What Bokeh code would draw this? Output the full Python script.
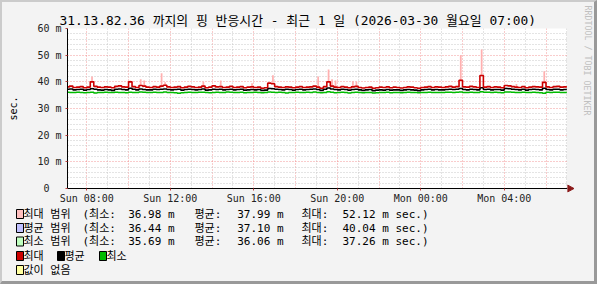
from bokeh.plotting import figure
from bokeh.layouts import column, row
from bokeh.models import FixedTicker, Range1d, ColumnDataSource
from bokeh.core.properties import value
from bokeh.embed import file_html
from bokeh.resources import INLINE

# ---------------- data (ms), 10-minute steps from Sun 07:00 ----------------
max_ms = [38.1, 38.4, 37.9, 38.0, 38.2, 37.8, 38.0, 40.0, 38.3, 38.0, 37.9, 38.1,
          38.0, 37.8, 38.3, 38.5, 38.1, 38.0, 40.0, 38.2, 37.9, 38.6, 38.4, 38.0,
          37.9, 38.2, 38.0, 38.4, 38.7, 38.1, 37.9, 38.0, 38.2, 37.8, 38.0, 38.3,
          38.1, 37.9, 38.0, 38.4, 37.8, 38.0, 38.5, 38.1, 38.2, 37.9, 38.0, 38.3,
          37.9, 38.0, 38.2, 37.8, 38.0, 38.1, 37.9, 38.0, 37.6, 37.8, 39.5, 39.3,
          38.2, 38.0, 37.9, 38.1, 38.0, 37.8, 38.0, 38.2, 37.9, 38.0, 38.1, 38.4,
          38.0, 37.6, 38.2, 40.0, 38.4, 38.0, 37.9, 38.2, 38.0, 37.8, 38.1, 38.3,
          37.9, 37.7, 37.9, 38.0, 37.6, 37.8, 38.0, 37.9, 38.1, 37.8, 38.0, 37.9,
          37.7, 37.9, 38.1, 38.0, 37.8, 37.6, 37.9, 38.0, 38.2, 37.9, 38.1, 38.0,
          37.9, 38.1, 38.3, 38.0, 38.2, 40.6, 38.1, 38.0, 38.3, 38.1, 37.9, 42.4,
          38.0, 38.2, 37.9, 38.1, 38.0, 37.8, 38.6, 38.5, 38.2, 38.0, 37.9, 38.2,
          37.8, 38.0, 38.2, 38.1, 38.0, 39.8, 38.1, 37.9, 38.2, 38.3, 38.0, 38.1]

avg_ms = [37.2, 37.3, 37.0, 37.1, 37.2, 36.9, 37.1, 37.4, 37.2, 37.0, 36.9, 37.1,
          37.0, 36.8, 37.2, 37.3, 37.1, 37.0, 37.6, 37.2, 37.0, 37.3, 37.1, 37.0,
          37.0, 37.2, 37.1, 37.2, 37.3, 37.1, 37.0, 37.1, 37.2, 36.9, 37.1, 37.2,
          37.1, 37.0, 37.1, 37.3, 36.9, 37.0, 37.2, 37.1, 37.2, 37.0, 37.1, 37.2,
          37.0, 37.1, 37.2, 36.9, 37.0, 37.1, 37.0, 37.1, 36.8, 36.9, 37.5, 37.4,
          37.2, 37.1, 37.0, 37.2, 37.1, 36.9, 37.1, 37.2, 37.0, 37.1, 37.2, 37.3,
          37.1, 36.8, 37.2, 37.7, 37.3, 37.1, 37.0, 37.2, 37.1, 36.9, 37.1, 37.2,
          37.0, 36.8, 37.0, 37.1, 36.7, 36.9, 37.0, 36.9, 37.1, 36.9, 37.0, 37.0,
          36.8, 37.0, 37.1, 37.0, 36.9, 36.7, 37.0, 37.1, 37.2, 37.0, 37.1, 37.0,
          37.0, 37.1, 37.2, 37.1, 37.2, 37.5, 37.1, 37.0, 37.2, 37.1, 37.0, 37.8,
          37.1, 37.2, 37.0, 37.1, 37.1, 36.9, 37.5, 37.4, 37.2, 37.1, 37.0, 37.2,
          36.9, 37.1, 37.2, 37.1, 37.0, 37.6, 37.1, 37.0, 37.2, 37.2, 37.0, 37.1]

min_ms = [36.1, 36.0, 36.0, 36.1, 36.0, 35.9, 36.0, 36.1, 35.8, 36.0, 36.0, 36.1,
          36.0, 36.0, 36.1, 36.0, 36.0, 35.9, 36.1, 36.0, 36.0, 36.2, 36.1, 36.0,
          36.0, 36.1, 36.0, 36.0, 36.2, 36.0, 36.0, 35.9, 35.7, 35.9, 36.0, 36.1,
          36.0, 36.0, 36.1, 36.1, 36.0, 35.9, 36.0, 36.1, 36.0, 36.0, 36.2, 36.1,
          36.0, 36.0, 36.1, 35.9, 36.0, 36.0, 36.1, 36.0, 35.9, 36.0, 36.2, 36.1,
          36.0, 36.1, 36.0, 35.8, 36.0, 36.0, 36.1, 36.0, 36.0, 36.1, 36.0, 36.2,
          36.0, 35.9, 36.0, 36.3, 36.1, 35.9, 36.0, 36.1, 36.0, 35.8, 36.0, 36.1,
          36.0, 35.9, 36.0, 36.0, 35.8, 35.9, 36.0, 36.0, 36.1, 35.9, 36.0, 36.0,
          35.9, 36.0, 36.1, 36.0, 36.0, 35.9, 36.0, 36.0, 36.1, 36.0, 36.0, 36.0,
          36.0, 36.1, 36.1, 36.0, 36.1, 36.2, 36.0, 36.0, 36.1, 36.0, 36.0, 36.3,
          36.1, 36.1, 36.0, 36.1, 36.0, 35.9, 36.2, 36.2, 36.1, 36.0, 36.0, 36.1,
          36.0, 36.0, 36.1, 36.0, 35.9, 35.7, 36.1, 36.0, 36.1, 36.1, 36.0, 36.0]

# max-range peaks (index of 10-minute step, top value)
spike_idx = [7, 18, 21, 22, 27, 28, 39, 44, 53, 59, 72, 75, 76, 77, 82, 83, 113, 119, 129, 137]
spike_top = [42.0, 40.5, 41.0, 40.5, 43.2, 39.8, 40.0, 40.5, 39.5, 42.5, 42.0, 44.6, 41.0,
             40.5, 40.2, 40.0, 50.0, 52.12, 39.2, 44.0]

x_tick_hours = [1, 5, 9, 13, 17, 21]
x_tick_labels = ["Sun 08:00", "Sun 12:00", "Sun 16:00", "Sun 20:00", "Mon 00:00", "Mon 04:00"]
y_ticks = [0, 10, 20, 30, 40, 50, 60]
y_tick_labels = ["0\u00a0\u00a0", "10 m", "20 m", "30 m", "40 m", "50 m", "60 m"]

title_text = "31.13.82.36 까지의 핑 반응시간 - 최근 1 일 (2026-03-30 월요일 07:00)"
side_text = "RRDTOOL / TOBI OETIKER"
range_labels = ["최대 범위", "평균 범위", "최소 범위"]
range_colors = ["#FFC0C0", "#C0C0FF", "#C0FFC0"]
range_min = [36.98, 36.44, 35.69]
range_avg = [37.99, 37.10, 36.06]
range_max = [52.12, 40.04, 37.26]
line_labels = ["최대", "평균", "최소"]
line_colors = ["#CC0000", "#000000", "#00BB00"]
nodata_label = "값이 없음"
nodata_color = "#FFFFA0"

# ---------------- layout ----------------
BG = "#F3F3F3"
MONO = "DejaVu Sans Mono, Noto Sans CJK KR"
MW, MH = 565, 205          # main figure, canvas x 2..567, y 2..207
FL, FT, FB = 65, 26, 186


def no_align(fig):
    if "frame_align" in fig.properties():
        fig.frame_align = False


p = figure(width=MW, height=MH, output_backend="svg", toolbar_location=None,
           x_range=Range1d(0.075, 24.03), y_range=Range1d(0, 60),
           min_border_left=FL, min_border_right=0, min_border_top=FT,
           min_border_bottom=MH - FB)
no_align(p)
p.background_fill_color = "#FFFFFF"
p.border_fill_color = BG
p.outline_line_color = None

p.title.text = title_text
p.title.align = "left"
p.title.offset = -8
p.title.standoff = 2
p.title.text_font = MONO
p.title.text_font_size = "12.9px"
p.title.text_font_style = "normal"
p.title.text_color = "#000000"

# grid
p.xgrid.ticker = FixedTicker(ticks=[1, 3, 5, 7, 9, 11, 13, 15, 17, 19, 21, 23],
                             minor_ticks=[2, 4, 6, 8, 10, 12, 14, 16, 18, 20, 22, 24])
p.ygrid.ticker = FixedTicker(ticks=[10, 20, 30, 40, 50, 60],
                             minor_ticks=[2, 4, 6, 8, 12, 14, 16, 18, 22, 24, 26, 28, 32, 34, 36,
                                          38, 42, 44, 46, 48, 52, 54, 56, 58])
for g in (p.xgrid[0], p.ygrid[0]):
    g.grid_line_color = "#F08080"
    g.grid_line_alpha = 0.8
    g.grid_line_dash = "1 2"
    g.minor_grid_line_color = "#C8C8C8"
    g.minor_grid_line_dash = "1 2"

# axes
xa = p.xaxis[0]
xa.ticker = FixedTicker(ticks=x_tick_hours)
xa.major_label_overrides = dict(zip(x_tick_hours, x_tick_labels))
ya = p.yaxis[0]
ya.ticker = FixedTicker(ticks=y_ticks)
ya.major_label_overrides = dict(zip(y_ticks, y_tick_labels))
for a in (xa, ya):
    a.axis_line_color = "#000000"
    a.axis_line_width = 1
    a.major_tick_in = 0
    a.major_tick_out = 2
    a.major_tick_line_color = "#C04040"
    a.minor_tick_line_color = None
    a.major_label_text_font = MONO
    a.major_label_text_font_size = "10px"
    a.major_label_text_color = "#222222"
xa.major_label_standoff = 2
ya.major_label_standoff = 4
ya.axis_label = "sec."
ya.axis_label_text_font = MONO
ya.axis_label_text_font_size = "10px"
ya.axis_label_text_font_style = "normal"
ya.axis_label_text_color = "#000000"
ya.axis_label_standoff = 15

# data
t = [i / 6 for i in range(len(max_ms) + 1)]
p.quad(left=[t[i] + 1 / 24 for i in spike_idx], right=[t[i] + 1 / 8 for i in spike_idx],
       bottom=[max_ms[i] for i in spike_idx], top=spike_top,
       fill_color="#FFB0B0", line_color=None)
p.step(t, min_ms + [min_ms[-1]], mode="after", line_color=line_colors[2], line_width=1.6)
p.step(t, avg_ms + [avg_ms[-1]], mode="after", line_color=line_colors[1], line_width=1.6)
p.step(t, max_ms + [max_ms[-1]], mode="after", line_color=line_colors[0], line_width=1.6)


def panel(w, h):
    f = figure(width=w, height=h, output_backend="svg", toolbar_location=None,
               x_range=Range1d(0, w), y_range=Range1d(h, 0),
               x_axis_type=None, y_axis_type=None,
               min_border_left=0, min_border_right=0, min_border_top=0, min_border_bottom=0)
    no_align(f)
    f.background_fill_color = BG
    f.border_fill_color = BG
    f.outline_line_color = None
    f.xgrid.visible = False
    f.ygrid.visible = False
    return f


# ---------------- legend panel (canvas x 2..567, y 207..281) ----------------
LW, LH = 565, 74
q = panel(LW, LH)
OX, OY = 2, 207
rows_y = [213.5, 227.5, 241, 255.5, 269.5]
ry = [y - OY for y in rows_y]

bx, by, bc = [], [], []
tx, ty, tt, ta = [], [], [], []


def txt(x, y, s, align="left"):
    tx.append(x - OX)
    ty.append(y)
    tt.append(s)
    ta.append(align)


for k in range(3):
    y = ry[k]
    bx.append(16 - OX); by.append(y); bc.append(range_colors[k])
    txt(23, y, range_labels[k])
    txt(82, y, "(최소:")
    txt(174, y, f"{range_min[k]:.2f} m", "right")
    txt(194, y, "평균:")
    txt(283, y, f"{range_avg[k]:.2f} m", "right")
    txt(301, y, "최대:")
    txt(342, y, f"{range_max[k]:.2f} m sec.)")

line_box_x = [16, 57, 99]
for k in range(3):
    bx.append(line_box_x[k] - OX); by.append(ry[3]); bc.append(line_colors[k])
    txt(line_box_x[k] + 7, ry[3], line_labels[k])
bx.append(16 - OX); by.append(ry[4]); bc.append(nodata_color)
txt(23, ry[4], nodata_label)

q.quad(left=bx, right=[x + 7 for x in bx], top=[y - 4.5 for y in by],
       bottom=[y + 4.5 for y in by], fill_color=bc, line_color="#000000", line_width=1)
q.text(x="x", y="y", text="t", text_align="a",
       source=ColumnDataSource(dict(x=tx, y=ty, t=tt, a=ta)),
       text_font=value(MONO), text_font_size=value("11px"), text_color="#000000",
       text_baseline="middle")

# ---------------- right strip (canvas x 567..594, y 2..281) ----------------
r = panel(27, 279)
r.text(x=[587 - 567], y=[60 - 2], text=[side_text], angle=-1.5708,
       text_font=value(MONO), text_font_size=value("8.3px"), text_color="#C0C0C0",
       text_align="center", text_baseline="middle")
# x-axis arrow head (axis end at canvas y 188)
r.segment(x0=[0], y0=[186], x1=[3], y1=[186], line_color="#000000", line_width=1)
r.patch(x=[0, 6.5, 0], y=[182.5, 186, 189.5], fill_color="#8B1A1A", line_color="#8B1A1A")

lay = row(column(p, q, spacing=0), r, spacing=0,
          styles={"border-left": "2px solid #CBCBCB", "border-top": "2px solid #CBCBCB",
                  "border-right": "3px solid #999999", "border-bottom": "3px solid #999999",
                  "background-color": BG})

open("out.html", "w").write(file_html(lay, INLINE))
